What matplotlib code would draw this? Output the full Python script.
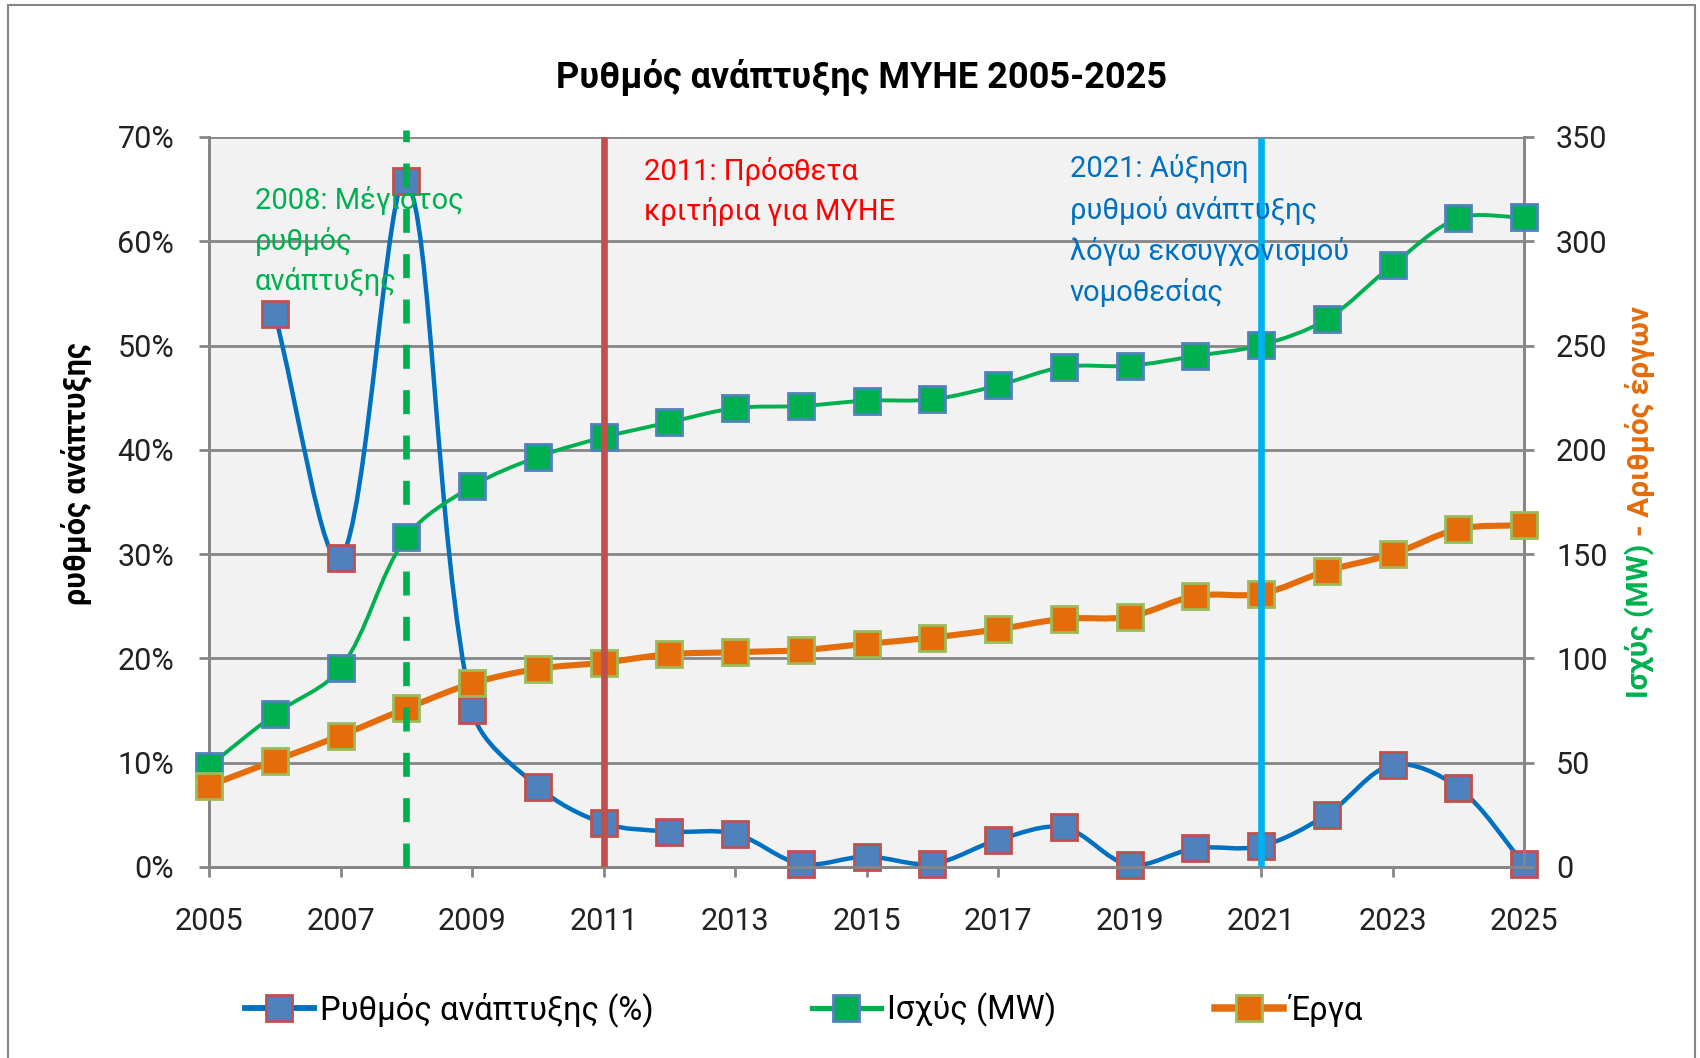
import numpy as np
import matplotlib
matplotlib.use('Agg')
import matplotlib.pyplot as plt
from matplotlib.path import Path
from matplotlib.patches import PathPatch, Rectangle
from matplotlib.lines import Line2D

plt.rcParams['font.family'] = ['Roboto', 'DejaVu Sans']

# data
years = list(range(2005, 2026))
rate = [np.nan, 53.0, 29.6, 65.8, 15.1, 7.7, 4.2, 3.4, 3.2, 0.3, 1.0,
        0.3, 2.6, 3.8, 0.2, 1.8, 2.0, 5.0, 9.8, 7.6, 0.3]          # %
power = [48.4, 73.3, 95.2, 158.1, 182.5, 196.6, 206.0, 213.2, 220.0, 221.0, 223.6,
         224.2, 230.9, 239.8, 240.3, 245.0, 250.2, 262.6, 288.6, 311.0, 311.5]  # MW
projects = [39, 51, 63, 76, 88, 95, 98, 102, 103, 104, 107,
            110, 114, 119, 120, 130, 131, 142, 150, 162, 164]
xticks = list(range(2005, 2026, 2))

W, H = 1700, 1058
def fx(x): return x / W
def fy(y): return 1 - y / H

L, R, T, B = 209, 1524, 137, 867


def smooth_path(xs, ys, sx, sy):
    # Excel-like smoothed line: cubic bezier, control arms scaled by segment lengths
    pts = [np.array([x * sx, y * sy]) for x, y in zip(xs, ys) if not np.isnan(y)]
    n = len(pts)
    verts = [pts[0]]
    codes = [Path.MOVETO]
    for i in range(n - 1):
        p0 = pts[i - 1] if i > 0 else pts[i]
        p1, p2 = pts[i], pts[i + 1]
        p3 = pts[i + 2] if i + 2 < n else pts[i + 1]
        d0 = np.hypot(*(p1 - p0))
        d1 = np.hypot(*(p2 - p1))
        d2 = np.hypot(*(p3 - p2))
        c1 = p1 + (p2 - p0) * d1 / (d0 + d1) / 3
        c2 = p2 - (p3 - p1) * d1 / (d1 + d2) / 3
        verts += [c1, c2, p2]
        codes += [Path.CURVE4] * 3
    verts = [(v[0] / sx, v[1] / sy) for v in verts]
    return Path(verts, codes)


fig = plt.figure(figsize=(17, 10.58), dpi=100)
fig.patch.set_facecolor('white')
ax = fig.add_axes([fx(L), fy(B), fx(R) - fx(L), fy(T) - fy(B)])
ax.set_facecolor('#F2F2F2')
ax.set_xlim(2005, 2025)
ax.set_ylim(0, 70)
ax2 = ax.twinx()
ax2.set_ylim(0, 350)

grid_c = '#868686'
for a in (ax, ax2):
    for s in a.spines.values():
        s.set_color(grid_c)
        s.set_linewidth(2)
    a.spines['top'].set_visible(False)
ax.set_yticks(range(0, 71, 10))
ax.set_yticklabels([f'{v}%' for v in range(0, 71, 10)])
ax2.set_yticks(range(0, 351, 50))
ax.set_xticks(xticks)
ax.yaxis.grid(True, color=grid_c, lw=2)
ax.set_axisbelow(True)
ax.tick_params(axis='both', direction='out', length=7, width=2, color=grid_c,
               labelsize=22, labelcolor='#222222')
ax.tick_params(axis='y', pad=18)
ax.tick_params(axis='x', pad=22)
ax2.tick_params(axis='y', direction='out', length=7, width=2, color=grid_c,
                labelsize=22, labelcolor='#222222', pad=16)

sx = (R - L) / 20.0
series = [
    (ax, rate, 70, '#0070C0', 3.2, '#4F81BD', '#C0504D'),
    (ax2, power, 350, '#00B050', 2.8, '#00B050', '#4F81BD'),
    (ax2, projects, 350, '#E46C0A', 4.4, '#E46C0A', '#9BBB59'),
]
for a, vals, top, lc, lw, fc, ec in series:
    path = smooth_path(years, vals, sx, (B - T) / top)
    a.add_patch(PathPatch(path, fill=False, ec=lc, lw=lw, zorder=3))
    a.plot(years, vals, ls='none', marker='s', ms=19, mfc=fc, mec=ec, mew=2,
           clip_on=False, zorder=4)

# event lines
ax2.axvline(2008, ymin=0, ymax=1.01, color='#00B050', lw=4.8, ls=(0, (3.6, 3.2)),
            clip_on=False, zorder=6)
ax2.axvline(2011, color='#C0504D', lw=4.8, zorder=6)
ax2.axvline(2021, ymin=0, ymax=0.994, color='#00B0F0', lw=4.8, zorder=6)

fs_note = 21
fig.text(fx(255), fy(186), '2008: Μέγιστος\nρυθμός\nανάπτυξης', color='#00B050',
         fontsize=fs_note, va='top', ha='left', linespacing=1.5, zorder=7)
fig.text(fx(644), fy(157), '2011: Πρόσθετα\nκριτήρια για ΜΥΗΕ', color='#FF0000',
         fontsize=fs_note, va='top', ha='left', linespacing=1.48, zorder=7)
fig.text(fx(1070), fy(154), '2021: Αύξηση\nρυθμού ανάπτυξης\nλόγω εκσυγχονισμού\nνομοθεσίας',
         color='#0070C0', fontsize=fs_note, va='top', ha='left',
         linespacing=1.52, zorder=7)

# title and axis labels
fig.text(fx(862), fy(78), 'Ρυθμός ανάπτυξης ΜΥΗΕ 2005-2025', fontsize=26,
         fontweight='bold', ha='center', va='center')
fig.text(fx(76), fy(474), 'ρυθμός ανάπτυξης', fontsize=22, fontweight='bold',
         rotation=90, ha='center', va='center')

renderer = fig.canvas.get_renderer()
pieces = [('Ισχύς (MW)', '#00B050'), ('- Αριθμός έργων', '#E46C0A')]
texts = []
for s, c in pieces:
    texts.append(fig.text(fx(1640), 0, s, color=c, fontsize=21.5, fontweight='bold',
                          rotation=90, ha='center', va='bottom'))
lens = [t.get_window_extent(renderer).height for t in texts]
gap = 8
total = sum(lens) + gap
y0 = (H - 502) - total / 2
for t, ln in zip(texts, lens):
    t.set_y(y0 / H)
    y0 += ln + gap

# legend
handles = [Line2D([], [], color=lc, lw=lw + 1, marker='s', ms=19, mfc=fc, mec=ec, mew=2)
           for a, vals, top, lc, lw, fc, ec in series]
labels = ['Ρυθμός ανάπτυξης (%)', 'Ισχύς (MW)', 'Έργα']
fig.legend(handles, labels, loc='center', bbox_to_anchor=(fx(804), fy(1010)), ncol=3,
           frameon=False, prop={'size': 23.5}, handlelength=2.1,
           handletextpad=0.2, columnspacing=4.85)

fig.patches.append(Rectangle((fx(8), -0.02), fx(1695) - fx(8), fy(5) + 0.02, fill=False,
                             ec='#868686', lw=1.5, transform=fig.transFigure))

fig.savefig('out.png', dpi=100)
